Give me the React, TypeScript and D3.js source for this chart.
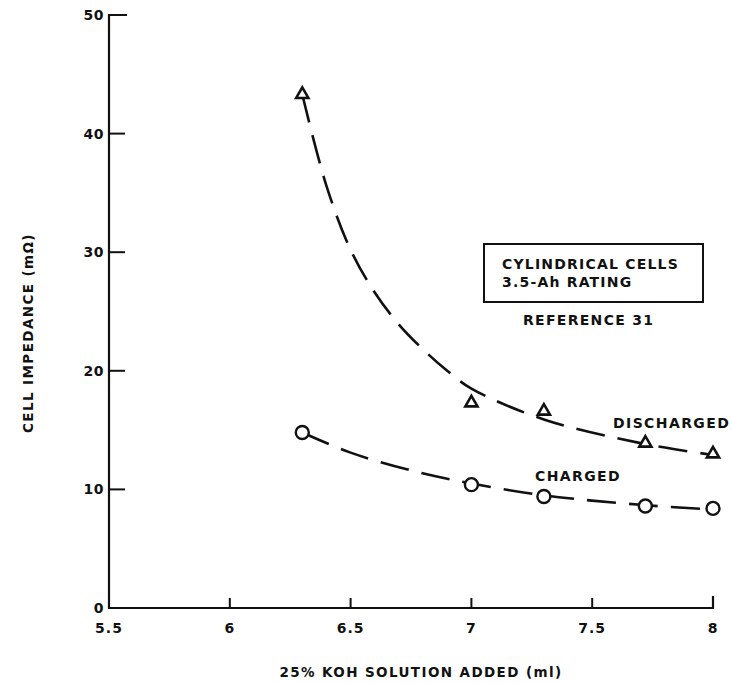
import { useEffect, useRef } from 'react'
import * as d3 from 'd3'

// measured points
const koh = [6.3, 7.0, 7.3, 7.72, 8.0]
const discharged = [43.3, 17.3, 16.6, 13.9, 13.0]
const charged = [14.8, 10.4, 9.4, 8.6, 8.4]

// hand-drawn fit curves
const dischargedFitX = [6.3, 6.4, 6.5, 6.6, 6.7, 6.8, 6.9, 7.0, 7.3, 7.7, 8.0]
const dischargedFitY = [43.3, 35.6, 30.2, 26.6, 23.9, 21.8, 20.0, 18.5, 15.9, 13.9, 12.9]
const chargedFitX = [6.3, 6.5, 6.75, 7.0, 7.3, 7.7, 8.0]
const chargedFitY = [14.8, 13.1, 11.6, 10.5, 9.5, 8.7, 8.3]

const xTicks = [5.5, 6, 6.5, 7, 7.5, 8]
const yTicks = [0, 10, 20, 30, 40, 50]

const W = 732
const H = 683
const FONT = '"DejaVu Sans", sans-serif'

export default function App() {
  const ref = useRef<HTMLDivElement>(null)

  useEffect(() => {
    if (!ref.current) return
    const el = ref.current
    el.innerHTML = ''

    const x = d3.scaleLinear().domain([5.5, 8]).range([109, 713])
    const y = d3.scaleLinear().domain([0, 50]).range([608, 15])

    const svg = d3.select(el).append('svg')
      .attr('width', W).attr('height', H)
      .style('display', 'block')
      .style('background', '#fff')

    const ink = '#111'

    const txt = (t: string, lx: number, ly: number, size = 14, spacing = 1.4, anchor = 'start') =>
      svg.append('text')
        .attr('x', lx).attr('y', ly).attr('text-anchor', anchor)
        .style('font-family', FONT).style('font-size', `${size}px`).style('font-weight', 'bold')
        .style('letter-spacing', `${spacing}px`)
        .style('fill', ink)
        .text(t)

    // axes
    svg.append('path')
      .attr('d', `M${x(5.5) + 18},${y(50)}H${x(5.5)}V${y(0)}H${x(8)}V${y(0) - 12}`)
      .attr('fill', 'none').attr('stroke', ink).attr('stroke-width', 2.2)

    yTicks.filter(v => v > 0 && v < 50).forEach(v => {
      svg.append('line')
        .attr('x1', x(5.5)).attr('x2', x(5.5) + 16)
        .attr('y1', y(v)).attr('y2', y(v))
        .attr('stroke', ink).attr('stroke-width', 2)
    })
    xTicks.filter(v => v > 5.5 && v < 8).forEach(v => {
      svg.append('line')
        .attr('x1', x(v)).attr('x2', x(v))
        .attr('y1', y(0)).attr('y2', y(0) - 10)
        .attr('stroke', ink).attr('stroke-width', 2)
    })

    yTicks.forEach(d => txt(String(d), x(5.5) - 5, y(d) + 5, 14, 0.5, 'end'))
    xTicks.forEach(d => txt(String(d), x(d), y(0) + 25, 14, 1, 'middle'))

    // axis titles
    svg.append('text')
      .attr('transform', `translate(33,333) rotate(-90)`)
      .attr('text-anchor', 'middle')
      .style('font-family', FONT).style('font-size', '13.5px').style('font-weight', 'bold')
      .style('letter-spacing', '1.4px')
      .style('fill', ink)
      .text('CELL IMPEDANCE (mΩ)')

    txt('25% KOH SOLUTION ADDED (ml)', 421, 677, 13.5, 1.4, 'middle')

    // fit curves
    const line = d3.line<[number, number]>()
      .x(d => x(d[0])).y(d => y(d[1]))
      .curve(d3.curveCatmullRom)

    const dFit = dischargedFitX.map((v, i) => [v, dischargedFitY[i]] as [number, number])
    const cFit = chargedFitX.map((v, i) => [v, chargedFitY[i]] as [number, number])

    ;[dFit, cFit].forEach(pts => {
      svg.append('path')
        .attr('d', line(pts) || '')
        .attr('fill', 'none').attr('stroke', ink).attr('stroke-width', 2.6)
        .attr('stroke-dasharray', '29 13')
    })

    // markers
    const tri = d3.symbol().type(d3.symbolTriangle).size(64)
    koh.forEach((v, i) => {
      svg.append('path')
        .attr('d', tri() || '')
        .attr('transform', `translate(${x(v)},${y(discharged[i])})`)
        .attr('fill', '#fff').attr('stroke', ink).attr('stroke-width', 2.6)
      svg.append('circle')
        .attr('cx', x(v)).attr('cy', y(charged[i])).attr('r', 6.5)
        .attr('fill', '#fff').attr('stroke', ink).attr('stroke-width', 2.4)
    })

    // labels
    txt('DISCHARGED', 613, 428, 14, 1.4)
    txt('CHARGED', 535, 481, 14, 1.4)

    svg.append('rect')
      .attr('x', 484).attr('y', 244).attr('width', 219).attr('height', 58)
      .attr('fill', 'none').attr('stroke', ink).attr('stroke-width', 2)
    txt('CYLINDRICAL CELLS', 502, 269, 14, 1.2)
    txt('3.5-Ah RATING', 502, 287, 14, 1.2)
    txt('REFERENCE 31', 523, 325, 14, 1.3)

    return () => { el.innerHTML = '' }
  }, [])

  return <div ref={ref} style={{ position: 'absolute', left: 0, top: 0, width: W, height: H }} />
}
